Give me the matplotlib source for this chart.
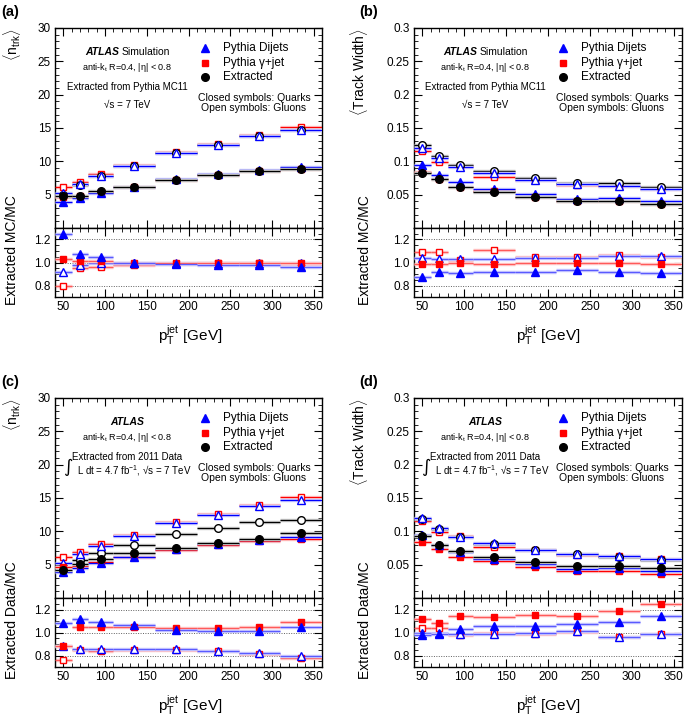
import numpy as np
import matplotlib
matplotlib.use('Agg')
import matplotlib.pyplot as plt
from matplotlib.ticker import MultipleLocator, FixedLocator

plt.rcParams['font.family'] = ['Liberation Sans', 'DejaVu Sans']
plt.rcParams['mathtext.fontset'] = 'custom'
plt.rcParams['mathtext.rm'] = 'Liberation Sans'
plt.rcParams['mathtext.it'] = 'Liberation Sans:italic'
plt.rcParams['mathtext.bf'] = 'Liberation Sans:bold'

# jet pT bins
bin_edges = [40, 60, 80, 110, 160, 210, 260, 310, 360]

# <n_trk> : Pythia MC (same in a and c)
ntrk_dijet_q = [3.9, 4.5, 5.3, 6.2, 7.3, 8.1, 8.7, 9.2]
ntrk_gjet_q = [4.7, 4.8, 5.45, 6.2, 7.2, 7.95, 8.5, 8.9]
ntrk_dijet_g = [5.3, 6.6, 7.85, 9.3, 11.2, 12.5, 13.8, 14.7]
ntrk_gjet_g = [6.1, 6.9, 8.1, 9.5, 11.35, 12.6, 13.9, 15.15]
# extracted from MC (a) / from data (c)
ntrk_mc_q = [4.85, 4.85, 5.5, 6.2, 7.2, 7.95, 8.5, 8.9]
ntrk_mc_g = [4.9, 6.5, 7.85, 9.3, 11.2, 12.5, 13.8, 14.7]
ntrk_data_q = [4.25, 5.15, 5.9, 6.75, 7.5, 8.25, 8.9, 9.75]
ntrk_data_g = [4.6, 5.7, 6.8, 8.0, 9.6, 10.5, 11.35, 11.75]

# <track width> : Pythia MC (same in b and d)
tw_dijet_q = [0.095, 0.080, 0.069, 0.059, 0.051, 0.044, 0.0445, 0.040]
tw_gjet_q = [0.084, 0.074, 0.062, 0.055, 0.047, 0.041, 0.041, 0.036]
tw_dijet_g = [0.120, 0.105, 0.092, 0.0825, 0.072, 0.066, 0.063, 0.0585]
tw_gjet_g = [0.115, 0.099, 0.093, 0.077, 0.072, 0.065, 0.063, 0.059]
tw_mc_q = [0.083, 0.073, 0.062, 0.0545, 0.047, 0.041, 0.041, 0.036]
tw_mc_g = [0.125, 0.108, 0.095, 0.085, 0.075, 0.068, 0.067, 0.062]
tw_data_q = [0.0935, 0.079, 0.071, 0.0615, 0.054, 0.0475, 0.0475, 0.045]
tw_data_g = [0.119, 0.104, 0.0915, 0.0815, 0.0715, 0.066, 0.0615, 0.0575]

# ratios extracted / MC
ra_dijet_q = [1.25, 1.075, 1.045, 1.0, 0.99, 0.975, 0.975, 0.965]
ra_gjet_q = [1.03, 1.01, 1.01, 1.0, 1.0, 1.0, 1.0, 1.0]
ra_dijet_g = [0.92, 0.98, 1.0, 1.0, 1.0, 1.0, 1.0, 1.0]
ra_gjet_g = [0.80, 0.95, 0.965, 0.975, 0.985, 0.995, 0.995, 0.97]

rb_dijet_q = [0.875, 0.92, 0.905, 0.92, 0.915, 0.935, 0.92, 0.91]
rb_gjet_q = [0.985, 0.985, 1.0, 0.985, 1.0, 1.0, 1.0, 0.99]
rb_dijet_g = [1.04, 1.03, 1.03, 1.03, 1.04, 1.035, 1.06, 1.06]
rb_gjet_g = [1.09, 1.09, 1.025, 1.105, 1.05, 1.05, 1.065, 1.05]

rc_dijet_q = [1.08, 1.115, 1.095, 1.065, 1.02, 1.01, 1.015, 1.05]
rc_gjet_q = [0.885, 1.045, 1.05, 1.05, 1.04, 1.035, 1.05, 1.09]
rc_dijet_g = [0.885, 0.86, 0.86, 0.855, 0.855, 0.84, 0.82, 0.795]
rc_gjet_g = [0.76, 0.845, 0.84, 0.845, 0.85, 0.835, 0.817, 0.78]

rd_dijet_q = [0.98, 0.99, 1.03, 1.06, 1.06, 1.07, 1.095, 1.14]
rd_gjet_q = [1.12, 1.08, 1.14, 1.135, 1.15, 1.14, 1.185, 1.245]
rd_dijet_g = [1.0, 1.0, 0.985, 0.99, 1.0, 1.015, 0.96, 0.99]
rd_gjet_g = [1.035, 1.04, 0.975, 1.0, 0.99, 1.005, 0.96, 0.985]

W, H = 685, 719
fig = plt.figure(figsize=(W / 100, H / 100), dpi=100)

edges = np.array(bin_edges, dtype=float)
lo, hi = edges[:-1], edges[1:]
centers = 0.5 * (lo + hi)

BLUE = '#0000ff'
RED = '#ff0000'
LBLUE = '#cdcdff'
LRED = '#ffcdcd'
GREY = '#cccccc'


def add_ax(x0, y0, x1, y1):
    return fig.add_axes([x0 / W, 1 - y1 / H, (x1 - x0) / W, (y1 - y0) / H])


def style(ax):
    ax.tick_params(which='both', direction='in', top=True, right=True, labelsize=8.5, pad=3)
    ax.tick_params(which='major', length=6, width=0.8)
    ax.tick_params(which='minor', length=3, width=0.6)
    ax.xaxis.set_major_locator(MultipleLocator(50))
    ax.xaxis.set_minor_locator(MultipleLocator(10))
    ax.set_xlim(40, 360)
    for s in ax.spines.values():
        s.set_linewidth(1.0)


def series(ax, y, marker, color, line, band, filled, ms, z):
    ax.hlines(y, lo, hi, colors=band, lw=2.5, zorder=z - 0.5)
    ax.hlines(y, lo, hi, colors=line, lw=0.9, zorder=z - 0.4)
    ax.plot(centers, y, ls='none', marker=marker, ms=ms, mec=color, mew=1.0,
            mfc=color if filled else 'white', zorder=z)


def main_panel(ax, dq, gq, dg, gg, eq, eg, ymax, yticks, ylabels, minor):
    series(ax, gg, 's', RED, RED, LRED, False, 5.0, 3)
    series(ax, eg, 'o', 'black', 'black', GREY, False, 5.5, 3.1)
    series(ax, dg, '^', BLUE, BLUE, LBLUE, False, 5.5, 3.2)
    series(ax, gq, 's', RED, RED, LRED, True, 5.0, 4)
    series(ax, dq, '^', BLUE, BLUE, LBLUE, True, 5.5, 4.1)
    series(ax, eq, 'o', 'black', 'black', GREY, True, 5.5, 4.2)
    style(ax)
    ax.set_ylim(0, ymax)
    ax.yaxis.set_major_locator(FixedLocator(yticks))
    ax.set_yticklabels(ylabels)
    ax.yaxis.set_minor_locator(MultipleLocator(minor))
    ax.tick_params(labelbottom=False)


def ratio_panel(ax, dq, gq, dg, gg):
    for v in [0.8, 1.0, 1.2]:
        ax.axhline(v, color='#606060', lw=0.7, ls=(0, (1, 1.5)), zorder=0.5)
    series(ax, gg, 's', RED, '#ff5a5a', LRED, False, 5.0, 3)
    series(ax, dg, '^', BLUE, '#5a5aff', LBLUE, False, 5.5, 3.2)
    series(ax, gq, 's', RED, '#ff5a5a', LRED, True, 5.0, 4)
    series(ax, dq, '^', BLUE, '#5a5aff', LBLUE, True, 5.5, 4.1)
    style(ax)
    ax.set_ylim(0.7, 1.3)
    ax.yaxis.set_major_locator(FixedLocator([0.8, 1.0, 1.2]))
    ax.set_yticklabels(['0.8', '1.0', '1.2'])
    ax.yaxis.set_minor_locator(MultipleLocator(0.05))


def ftext(x, y, s, **kw):
    fig.text(x / W, 1 - y / H, s, **kw)


def annotate(dx, dy, sim, ylab, rlab, letter, ylx, rlx):
    ftext(1 + dx, 12 + dy, letter, fontsize=10.5, fontweight='bold', va='center', ha='left')
    ftext(ylx, 28 + dy, ylab, fontsize=10, rotation=90, ha='center', va='top')
    ftext(rlx, 250 + dy, rlab, fontsize=10, rotation=90, ha='center', va='center')
    ftext(190 + dx, 335 + dy, r'p$_{\mathrm{T}}^{\mathrm{jet}}$ [GeV]', fontsize=11, ha='center', va='center')
    # legend
    for yy, mk, col in [(48, '^', BLUE), (63, 's', RED), (77, 'o', 'black')]:
        fig.lines.append(plt.Line2D([(205 + dx) / W], [1 - (yy + dy) / H], transform=fig.transFigure,
                                    marker=mk, color=col, ms=5.5 if mk != 's' else 5.0, ls='none'))
    ftext(223 + dx, 48 + dy, 'Pythia Dijets', fontsize=8.5, va='center')
    ftext(223 + dx, 63 + dy, 'Pythia γ+jet', fontsize=8.5, va='center')
    ftext(223 + dx, 77 + dy, 'Extracted', fontsize=8.5, va='center')
    ftext(254 + dx, 98 + dy, 'Closed symbols: Quarks', fontsize=7.5, ha='center', va='center')
    ftext(254 + dx, 108 + dy, 'Open symbols: Gluons', fontsize=7.5, ha='center', va='center')
    # ATLAS label
    if sim:
        ftext(119 + dx, 52 + dy, 'ATLAS', fontsize=7.5, fontweight='bold', style='italic', ha='right', va='center')
        ftext(122 + dx, 52 + dy, 'Simulation', fontsize=7.5, ha='left', va='center')
        ftext(127 + dx, 67 + dy, r'anti-k$_{\mathrm{t}}$ R=0.4, |η| < 0.8', fontsize=6.5, ha='center', va='center')
        ftext(127 + dx, 87 + dy, 'Extracted from Pythia MC11', fontsize=7, ha='center', va='center')
        ftext(127 + dx, 105 + dy, '√s = 7 TeV', fontsize=7, ha='center', va='center')
    else:
        ftext(127 + dx, 52 + dy, 'ATLAS', fontsize=7.5, fontweight='bold', style='italic', ha='center', va='center')
        ftext(127 + dx, 67 + dy, r'anti-k$_{\mathrm{t}}$ R=0.4, |η| < 0.8', fontsize=6.5, ha='center', va='center')
        ftext(72 + dx, 87 + dy, 'Extracted from 2011 Data', fontsize=7, ha='left', va='center')
        ftext(68 + dx, 97 + dy, '∫', fontsize=13, ha='center', va='center', family=['DejaVu Sans'])
        ftext(77 + dx, 101 + dy, r'L dt = 4.7 fb$^{-1}$, √s = 7 TeV', fontsize=7, ha='left', va='center')


# panel geometry in pixels
XL = (55, 322)
XR = (414, 682)
YT = (28, 228, 297)
YB = (398, 598, 667)

ntrk_label = r'$\langle$n$_{\mathrm{trk}}\rangle$'
tw_label = r'$\langle$Track Width$\rangle$'
ntrk_ticks = [5, 10, 15, 20, 25, 30]
ntrk_tick_labels = ['5', '10', '15', '20', '25', '30']
tw_ticks = [0.05, 0.1, 0.15, 0.2, 0.25, 0.3]
tw_tick_labels = ['0.05', '0.1', '0.15', '0.2', '0.25', '0.3']

# (a)
ax = add_ax(XL[0], YT[0], XL[1], YT[1])
main_panel(ax, ntrk_dijet_q, ntrk_gjet_q, ntrk_dijet_g, ntrk_gjet_g, ntrk_mc_q, ntrk_mc_g,
           30, ntrk_ticks, ntrk_tick_labels, 1)
ax = add_ax(XL[0], YT[1], XL[1], YT[2])
ratio_panel(ax, ra_dijet_q, ra_gjet_q, ra_dijet_g, ra_gjet_g)
annotate(0, 0, True, ntrk_label, 'Extracted MC/MC', '(a)', 12, 12)

# (b)
ax = add_ax(XR[0], YT[0], XR[1], YT[1])
main_panel(ax, tw_dijet_q, tw_gjet_q, tw_dijet_g, tw_gjet_g, tw_mc_q, tw_mc_g,
           0.3, tw_ticks, tw_tick_labels, 0.01)
ax = add_ax(XR[0], YT[1], XR[1], YT[2])
ratio_panel(ax, rb_dijet_q, rb_gjet_q, rb_dijet_g, rb_gjet_g)
annotate(358, 0, True, tw_label, 'Extracted MC/MC', '(b)', 359, 365)

# (c)
ax = add_ax(XL[0], YB[0], XL[1], YB[1])
main_panel(ax, ntrk_dijet_q, ntrk_gjet_q, ntrk_dijet_g, ntrk_gjet_g, ntrk_data_q, ntrk_data_g,
           30, ntrk_ticks, ntrk_tick_labels, 1)
ax = add_ax(XL[0], YB[1], XL[1], YB[2])
ratio_panel(ax, rc_dijet_q, rc_gjet_q, rc_dijet_g, rc_gjet_g)
annotate(0, 370, False, ntrk_label, 'Extracted Data/MC', '(c)', 12, 12)

# (d)
ax = add_ax(XR[0], YB[0], XR[1], YB[1])
main_panel(ax, tw_dijet_q, tw_gjet_q, tw_dijet_g, tw_gjet_g, tw_data_q, tw_data_g,
           0.3, tw_ticks, tw_tick_labels, 0.01)
ax = add_ax(XR[0], YB[1], XR[1], YB[2])
ratio_panel(ax, rd_dijet_q, rd_gjet_q, rd_dijet_g, rd_gjet_g)
annotate(358, 370, False, tw_label, 'Extracted Data/MC', '(d)', 359, 365)

fig.savefig('out.png', dpi=100)
